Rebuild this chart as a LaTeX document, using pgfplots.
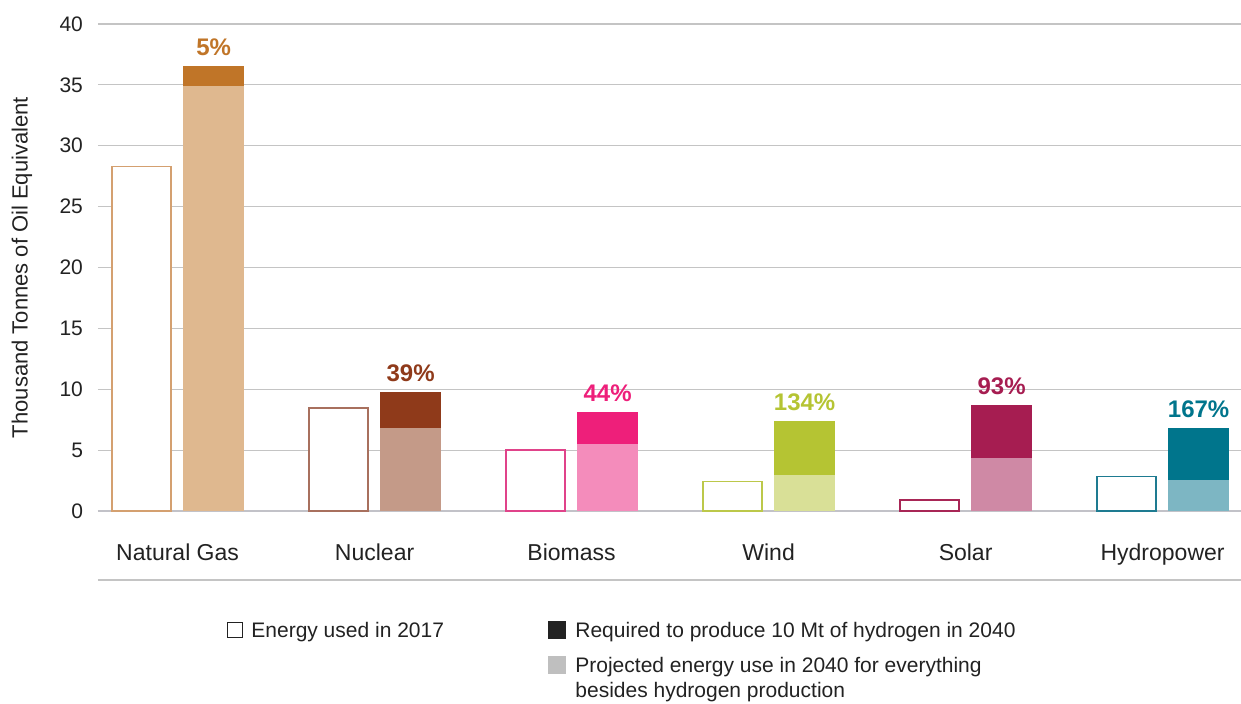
\documentclass[border=0pt]{standalone}
\usepackage{pgfplots}
\pgfplotsset{compat=1.18}
\usepackage{fontspec}
\setmainfont{Liberation Sans}
\definecolor{gridc}{HTML}{C4C4C4}
\definecolor{axc}{HTML}{C2C2C8}
\definecolor{txt}{HTML}{222222}
% Natural gas
\definecolor{ngO}{HTML}{D4A070}\definecolor{ngB}{HTML}{DFB88F}\definecolor{ngT}{HTML}{C07528}
% Nuclear
\definecolor{nuO}{HTML}{A8705E}\definecolor{nuB}{HTML}{C49A88}\definecolor{nuT}{HTML}{8F3A1A}
% Biomass
\definecolor{biO}{HTML}{E0438A}\definecolor{biB}{HTML}{F48CBB}\definecolor{biT}{HTML}{EE1F7A}
% Wind
\definecolor{wiO}{HTML}{BCC84A}\definecolor{wiB}{HTML}{D9E097}\definecolor{wiT}{HTML}{B5C433}
% Solar
\definecolor{soO}{HTML}{A82656}\definecolor{soB}{HTML}{CF89A5}\definecolor{soT}{HTML}{A61D51}
% Hydro
\definecolor{hyO}{HTML}{1E7B91}\definecolor{hyB}{HTML}{7DB6C3}\definecolor{hyT}{HTML}{00758C}
\pgfplotsset{
  old/.style={ybar, bar shift=0pt, bar width=0.30, fill=white, draw=#1, line width=0.7pt},
  base/.style={ybar, bar shift=0pt, bar width=0.31, fill=#1, draw=none},
  tot/.style 2 args={ybar, bar shift=0pt, bar width=0.31, fill=#1, draw=none,
     nodes near coords={#2},
     every node near coord/.style={font=\fontsize{12}{14}\selectfont\bfseries, text=#1, anchor=south, yshift=1.5pt}},
}
\begin{document}
\begin{tikzpicture}
\path[use as bounding box] (-49pt,-96pt) rectangle (571.5pt,255.5pt);
\begin{axis}[
  at={(0,0)}, anchor=south west,
  scale only axis, width=571.5pt, height=243.5pt,
  xmin=-0.404, xmax=5.398, ymin=0, ymax=40,
  clip=false,
  axis lines=left,
  axis line style={-},
  y axis line style={draw=none},
  x axis line style={draw=axc, line width=1pt},
  major tick length=0pt,
  ytick={0,5,...,40},
  /pgf/number format/assume math mode=true,
  ymajorgrids,
  grid style={draw=gridc, line width=0.6pt},
  xtick={0,1,2,3,4,5},
  xticklabels={Natural Gas, Nuclear, Biomass, Wind, Solar, Hydropower},
  xticklabel style={font=\fontsize{11.5}{13}\selectfont, text=txt, anchor=base, yshift=-24.5pt},
  yticklabel style={font=\fontsize{10.5}{12}\selectfont, text=txt, anchor=east, xshift=-4pt},
  every axis y label/.style={at={(axis description cs:-0.0665,0.5)}, rotate=90, anchor=center,
     font=\fontsize{11}{13}\selectfont, text=txt},
  ylabel={Thousand Tonnes of Oil Equivalent},
]
% 2040 totals (hydrogen on top)
\addplot[tot={ngT}{5\%}] coordinates {(0.183,36.57)};
\addplot[tot={nuT}{39\%}] coordinates {(1.183,9.76)};
\addplot[tot={biT}{44\%}] coordinates {(2.183,8.12)};
\addplot[tot={wiT}{134\%}] coordinates {(3.183,7.38)};
\addplot[tot={soT}{93\%}] coordinates {(4.183,8.69)};
\addplot[tot={hyT}{167\%}] coordinates {(5.183,6.80)};
% 2040 base (everything besides hydrogen)
\addplot[base=ngB] coordinates {(0.183,34.87)};
\addplot[base=nuB] coordinates {(1.183,6.80)};
\addplot[base=biB] coordinates {(2.183,5.49)};
\addplot[base=wiB] coordinates {(3.183,2.93)};
\addplot[base=soB] coordinates {(4.183,4.33)};
\addplot[base=hyB] coordinates {(5.183,2.52)};
% 2017
\addplot[old=ngO] coordinates {(-0.183,28.3)};
\addplot[old=nuO] coordinates {(0.817,8.47)};
\addplot[old=biO] coordinates {(1.817,5.02)};
\addplot[old=wiO] coordinates {(2.817,2.40)};
\addplot[old=soO] coordinates {(3.817,0.92)};
\addplot[old=hyO] coordinates {(4.817,2.83)};
\draw[draw=gridc, line width=0.75pt] (axis cs:-0.404,-5.667) -- (axis cs:5.398,-5.667);
\end{axis}
% legend
\begin{scope}[font=\fontsize{10.5}{12.5}\selectfont, text=txt]
\draw[draw=txt, line width=0.5pt, fill=white] (64.75pt,-55.75pt) rectangle (72.25pt,-63.25pt);
\node[anchor=base west, inner sep=0pt] at (76.5pt,-63.2pt) {Energy used in 2017};
\fill[txt] (225pt,-55pt) rectangle (234pt,-64pt);
\node[anchor=base west, inner sep=0pt] at (238.5pt,-63.2pt) {Required to produce 10 Mt of hydrogen in 2040};
\fill[black!25!gray!40] (225pt,-72.5pt) rectangle (234pt,-81.5pt);
\node[anchor=base west, inner sep=0pt] at (238.5pt,-80.6pt) {Projected energy use in 2040 for everything};
\node[anchor=base west, inner sep=0pt] at (238.5pt,-93.4pt) {besides hydrogen production};
\end{scope}
\end{tikzpicture}
\end{document}
